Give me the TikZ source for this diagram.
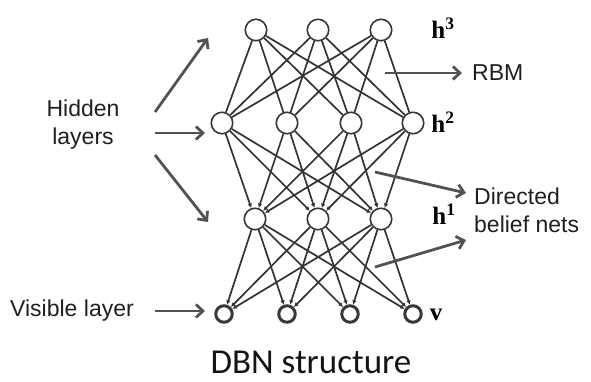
\documentclass[tikz,border=0pt]{standalone}
\usepackage{fontspec}
\setmainfont{Liberation Sans}
\newfontfamily\hfont{Liberation Serif}
\newfontfamily\capfont{Carlito}
\usetikzlibrary{arrows.meta}
\begin{document}
\begin{tikzpicture}[x=1pt,y=-1pt,
 neuron/.style={circle,draw=black!78,line width=1.6pt,minimum size=21.5pt,inner sep=0pt,fill=white},
 vis/.style={circle,draw=black!78,line width=3pt,minimum size=16.5pt,inner sep=0pt,fill=white},
 link/.style={draw=black!80,line width=1.7pt},
 dlink/.style={link,-{Latex[length=4.5pt,width=4.5pt]}},
 note/.style={draw=black!68,line width=2.8pt,-{Straight Barb[length=7pt,width=13pt]}},
 lbl/.style={font=\fontsize{23}{28}\selectfont,align=center,text=black!88,inner sep=0pt},
 hl/.style={font=\hfont\bfseries\fontsize{25}{25}\selectfont,inner sep=0pt}
]
\useasboundingbox (0,0) rectangle (591,381);
% layers
\node[neuron] (t1) at (256,30) {};
\node[neuron] (t2) at (318,30) {};
\node[neuron] (t3) at (381,30) {};
\node[neuron] (m1) at (222,123) {};
\node[neuron] (m2) at (287,123) {};
\node[neuron] (m3) at (351,123) {};
\node[neuron] (m4) at (413,123) {};
\node[neuron] (b1) at (255,219) {};
\node[neuron] (b2) at (318,219) {};
\node[neuron] (b3) at (381,219) {};
\node[vis] (v1) at (224,314) {};
\node[vis] (v2) at (287,314) {};
\node[vis] (v3) at (350,314) {};
\node[vis] (v4) at (413,314) {};
% connections
\foreach \i in {1,2,3}{
  \foreach \j in {1,2,3,4}{
    \draw[link] (t\i) -- (m\j);
    \draw[dlink] (m\j) -- (b\i);
    \draw[dlink] (b\i) -- (v\j);
  }
}
% layer labels
\node[hl] (h3) at (443,28) {h\textsuperscript{3}};
\node[hl] (h2) at (443,122) {h\textsuperscript{2}};
\node[hl] (h1) at (444,214) {h\textsuperscript{1}};
\node[hl] (vl) at (436,315) {v};
% annotations
\node[lbl] (hid) at (83,125) {Hidden\\layers};
\node[lbl] (visl) at (72,311) {Visible layer};
\node[lbl,anchor=west] (rbm) at (472,73) {RBM};
\node[lbl,anchor=west,align=left] (dbn) at (474,210) {Directed\\belief nets};
\node[font=\capfont\fontsize{35}{35}\selectfont,text=black!92,inner sep=0pt] (title) at (311,362) {DBN structure};
\coordinate (a1s) at (155,112); \coordinate (a1e) at (208,38);
\coordinate (a2s) at (155,133); \coordinate (a2e) at (205,133);
\coordinate (a3s) at (155,155); \coordinate (a3e) at (208,222);
\coordinate (a4s) at (155,311); \coordinate (a4e) at (205,311);
\coordinate (rs) at (385,73);  \coordinate (re) at (462,73);
\coordinate (d1s) at (375,172); \coordinate (d1e) at (466,193);
\coordinate (d2s) at (375,267); \coordinate (d2e) at (466,240);
\draw[note] (a1s) -- (a1e);
\draw[note] (a2s) -- (a2e);
\draw[note] (a3s) -- (a3e);
\draw[note] (a4s) -- (a4e);
\draw[note] (rs) -- (re);
\draw[note] (d1s) -- (d1e);
\draw[note] (d2s) -- (d2e);
\end{tikzpicture}
\end{document}
